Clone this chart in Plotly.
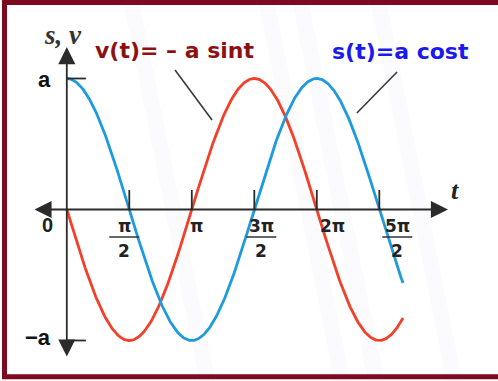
import numpy as np
import plotly.graph_objects as go

# ---- data -------------------------------------------------------------
A = 1.0                      # amplitude a
t_end = 8.45                 # last plotted instant
tick_vals = [np.pi / 2, np.pi, 3 * np.pi / 2, 2 * np.pi, 5 * np.pi / 2]
tick_num = ["π", "π", "3π", "2π", "5π"]
tick_den = ["2", "", "2", "", "2"]

t = np.linspace(0, t_end, 500)
s = A * np.cos(t)            # s(t) = a cos t
v = -A * np.sin(t)           # v(t) = -a sin t

# ---- geometry ---------------------------------------------------------
W, H = 498, 381
ox, oy = 66.8, 209.5         # pixel position of the origin
kx, ky = 39.79, 131.0        # pixels per radian, pixels per a
x_range = [-ox / kx, (W - ox) / kx]
y_range = [-(H - oy) / ky, oy / ky]
tick_shift = [-5, 5, 7, 16, 18]   # horizontal nudge of each tick label (px)

BLUE = "#1e9ade"
RED = "#f2402a"
AXIS = "#2b2b2b"
FRAME = "#7d0a20"

fig = go.Figure()
fig.add_trace(go.Scatter(x=t, y=v, mode="lines", line=dict(color=RED, width=2.8),
                         hoverinfo="skip", showlegend=False))
fig.add_trace(go.Scatter(x=t, y=s, mode="lines", line=dict(color=BLUE, width=2.8),
                         hoverinfo="skip", showlegend=False))

shapes = []
annotations = []

# faint slanted streaks in the paper background
for left in (123, 258, 292, 370):
    x_top0, x_top1 = left / W, (left + 16) / W
    slant = 0.2 * H / W
    shapes.append(dict(type="path", xref="paper", yref="paper", layer="below",
                       path=f"M {x_top0} 1 L {x_top1} 1 L {x_top1 + slant} 0 L {x_top0 + slant} 0 Z",
                       fillcolor="rgba(215,205,228,0.1)", line=dict(width=0)))

# axes with arrow heads on both ends
annotations.append(dict(x=9.58, y=0, ax=-0.85, ay=0, xref="x", yref="y", axref="x", ayref="y",
                        text="", showarrow=True, arrowside="end+start", arrowhead=2,
                        arrowsize=1.9, arrowwidth=1.8, arrowcolor=AXIS))
annotations.append(dict(x=0, y=1.24, ax=0, ay=-1.134, xref="x", yref="y", axref="x", ayref="y",
                        text="", showarrow=True, arrowside="end+start", arrowhead=2,
                        arrowsize=1.9, arrowwidth=1.8, arrowcolor=AXIS))

# tick marks on the t axis
for tv in tick_vals:
    shapes.append(dict(type="line", xref="x", yref="y", x0=tv, x1=tv, y0=0, y1=0.149,
                       line=dict(color=AXIS, width=1.8)))
# tick marks for +a and -a
for lev in (A, -A):
    shapes.append(dict(type="line", xref="x", yref="y", x0=0, x1=0.48, y0=lev, y1=lev,
                       line=dict(color=AXIS, width=1.8)))

lab_font = dict(family="DejaVu Sans", size=17, color="#222")
for tv, num, den, dx in zip(tick_vals, tick_num, tick_den, tick_shift):
    annotations.append(dict(x=tv, y=0, xref="x", yref="y", text=f"<b>{num}</b>",
                            showarrow=False, xshift=dx, yshift=-16, font=lab_font))
    if den:
        annotations.append(dict(x=tv, y=0, xref="x", yref="y", text=f"<b>{den}</b>",
                                showarrow=False, xshift=dx, yshift=-41, font=lab_font))
        half = 15 / kx
        shapes.append(dict(type="line", xref="x", yref="y",
                           x0=tv + dx / kx - half, x1=tv + dx / kx + half,
                           y0=-27.5 / ky, y1=-27.5 / ky,
                           line=dict(color="#333", width=1.5)))

# axis labels
bold_sans = dict(family="Liberation Sans", size=22, color="#111")
annotations += [
    dict(x=0, y=A, xref="x", yref="y", text="<b>a</b>", showarrow=False,
         xshift=-22, yshift=-1, font=bold_sans),
    dict(x=0, y=-A, xref="x", yref="y", text="<b>−a</b>", showarrow=False,
         xshift=-29, yshift=3, font=bold_sans),
    dict(x=0, y=0, xref="x", yref="y", text="<b>0</b>", showarrow=False,
         xshift=-19, yshift=-15, font=dict(family="Liberation Sans", size=20, color="#222")),
    dict(x=0, y=0, xref="x", yref="y", text="<b><i>s, ν</i></b>", showarrow=False,
         xshift=-4, yshift=175, font=dict(family="Liberation Serif", size=27, color="#333")),
    dict(x=9.58, y=0, xref="x", yref="y", text="<b><i>t</i></b>", showarrow=False,
         xshift=7, yshift=19, font=dict(family="Liberation Serif", size=26, color="#222")),
]

# formula captions with leader lines
annotations += [
    dict(x=(93 - ox) / kx, y=(oy - 50) / ky, xref="x", yref="y", xanchor="left",
         text="<b>v(t)= – a sint</b>", showarrow=False,
         font=dict(family="DejaVu Sans", size=22, color="#8c1212")),
    dict(x=(330 - ox) / kx, y=(oy - 51) / ky, xref="x", yref="y", xanchor="left",
         text="<b>s(t)=a cost</b>", showarrow=False,
         font=dict(family="DejaVu Sans", size=22, color="#1a1af0")),
]
shapes += [
    dict(type="line", xref="x", yref="y", x0=2.72, y0=1.065, x1=3.65, y1=0.683,
         line=dict(color="#3a3a3a", width=1.6)),
    dict(type="line", xref="x", yref="y", x0=8.30, y0=1.05, x1=7.29, y1=0.737,
         line=dict(color="#3a3a3a", width=1.6)),
]

# frame
shapes.append(dict(type="rect", xref="paper", yref="paper",
                   x0=4.5 / W, x1=502 / W, y0=1 - 376.8 / H, y1=1 - 2.5 / H,
                   line=dict(color=FRAME, width=5), layer="above"))

fig.update_layout(
    width=W, height=H, margin=dict(l=0, r=0, t=0, b=0),
    paper_bgcolor="white", plot_bgcolor="white",
    xaxis=dict(range=x_range, visible=False, fixedrange=True),
    yaxis=dict(range=y_range, visible=False, fixedrange=True),
    shapes=shapes, annotations=annotations, showlegend=False,
)
fig.write_html("out.html")
